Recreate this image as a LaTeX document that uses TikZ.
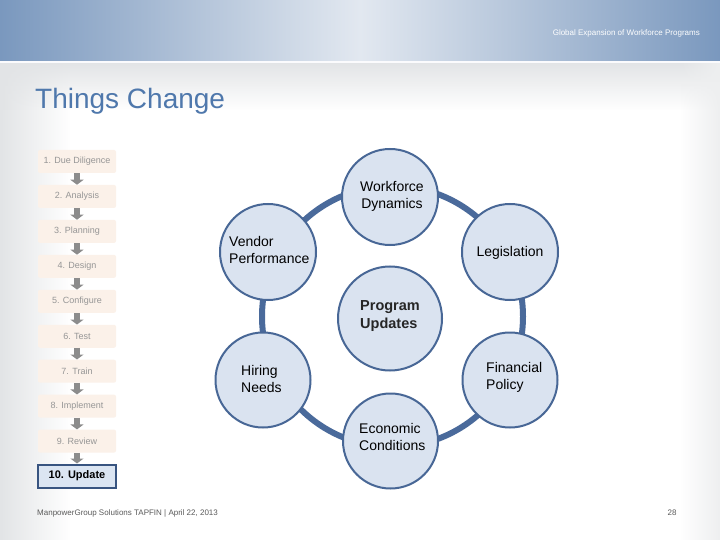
\documentclass[tikz,border=0pt]{standalone}
\usepackage{fontspec}
\setmainfont{Liberation Sans}
\usetikzlibrary{arrows.meta,fadings}
\definecolor{hdL}{RGB}{122,152,190}
\definecolor{hdM}{RGB}{226,232,240}
\definecolor{bgG}{RGB}{226,228,230}
\definecolor{titlec}{RGB}{79,120,172}
\definecolor{bubfill}{RGB}{218,227,240}
\definecolor{bubbord}{RGB}{72,103,150}
\definecolor{ringc}{RGB}{74,106,155}
\definecolor{stepfill}{RGB}{251,241,233}
\definecolor{steptext}{RGB}{150,150,150}
\definecolor{arrowc}{RGB}{140,140,140}
\definecolor{lastfill}{RGB}{219,229,242}
\definecolor{lastbord}{RGB}{56,84,128}
\definecolor{footc}{RGB}{90,90,90}
\tikzset{
  stepbox/.style={rectangle, rounded corners=2pt, fill=stepfill, minimum width=78pt, minimum height=23pt, inner sep=0pt, text=steptext, font=\fontsize{9}{11}\selectfont},
  lastbox/.style={rectangle, fill=lastfill, draw=lastbord, line width=2pt, minimum width=78pt, minimum height=23pt, inner sep=0pt, text=black, font=\fontsize{11}{13}\selectfont\bfseries},
  steparrow/.style={draw=arrowc, line width=6pt, -{Triangle[width=13pt,length=5pt]}},
  bub/.style={circle, draw=bubbord, line width=2pt, fill=bubfill, inner sep=0pt},
  ctext/.style={inner sep=0pt, text=black, font=\fontsize{14}{17}\selectfont},
}
\begin{document}
\begin{tikzpicture}[x=1pt,y=-1pt]
\useasboundingbox (0,0) rectangle (720,540);
% background
\fill[white] (0,0) rectangle (720,540);
\fill[bgG, path fading=east] (0,62) rectangle (70,540);
\fill[bgG, path fading=south] (0,62) rectangle (720,110);
\fill[bgG!60, path fading=west] (680,62) rectangle (720,540);
% header
\shade[left color=hdL, right color=hdL, middle color=hdM] (0,0) rectangle (720,61);
\fill[white!85!hdM] (0,61) rectangle (720,63);
\node[anchor=east, text=white, inner sep=0pt, font=\fontsize{8}{10}\selectfont] (hdr) at (700,33) {Global Expansion of Workforce Programs};
% title
\node[anchor=west, text=titlec, inner sep=0pt, font=\fontsize{28}{32}\selectfont] (title) at (35,101) {Things Change};
% steps
\foreach \i/\t in {1/1. Due Diligence, 2/2. Analysis, 3/3. Planning, 4/4. Design, 5/5. Configure, 6/6. Test, 7/7. Train, 8/8. Implement, 9/9. Review}
  \node[stepbox] (s\i) at (77,{161.5+(\i-1)*34.95}) {\t};
\node[lastbox] (s10) at (77,476) {10. Update};
\foreach \i [evaluate=\i as \j using int(\i+1)] in {1,...,9}
  \draw[steparrow] (s\i) -- (s\j);
% ring
\coordinate (rc) at (392.5,316.5);
\draw[ringc, line width=6pt] (rc) circle (130.5pt);
% bubbles
\node[bub, minimum size=96pt] (wd) at (390,197) {};
\node[bub, minimum size=96pt] (vp) at (268,252) {};
\node[bub, minimum size=96pt] (lg) at (510,252) {};
\node[bub, minimum size=104pt] (pu) at (390,318.5) {};
\node[bub, minimum size=95pt] (hn) at (263,380) {};
\node[bub, minimum size=95pt] (fp) at (510,380) {};
\node[bub, minimum size=95pt] (ec) at (390.5,441) {};
% bubble texts
\node[ctext, align=center] (wdt) at (392,196) {Workforce\\Dynamics};
\node[ctext, align=left, anchor=west] (vpt) at (229,250) {Vendor\\Performance};
\node[ctext] (lgt) at (510,253) {Legislation};
\node[ctext, align=left, anchor=west, font=\fontsize{14.5}{17.5}\selectfont\bfseries, text=black!85] (put) at (360,316) {Program\\Updates};
\node[ctext, align=left, anchor=west] (hnt) at (241,379) {Hiring\\Needs};
\node[ctext, align=left, anchor=west] (fpt) at (486,377) {Financial\\Policy};
\node[ctext, align=left, anchor=west] (ect) at (359,437) {Economic\\Conditions};
% footer
\node[anchor=west, text=footc, inner sep=0pt, font=\fontsize{8}{10}\selectfont] (foot) at (37,513) {ManpowerGroup Solutions TAPFIN | April 22, 2013};
\node[text=footc, inner sep=0pt, font=\fontsize{8}{10}\selectfont] (pg) at (672,513) {28};
\end{tikzpicture}
\end{document}
